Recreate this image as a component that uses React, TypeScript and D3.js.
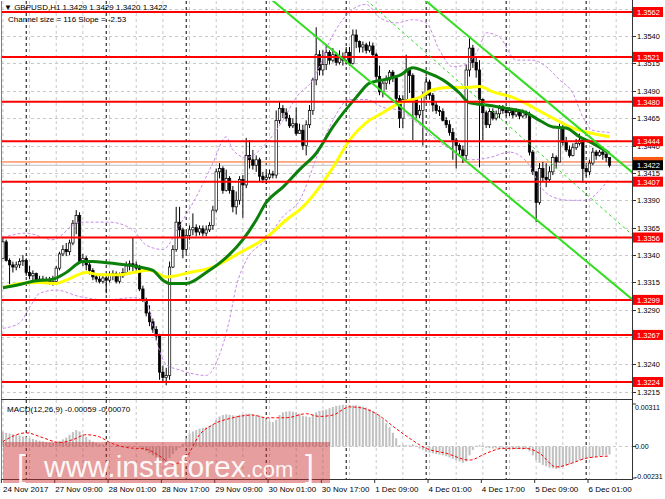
import React from "react";
import * as d3 from "d3";

// ---------- DATA ----------
const firstOpen = 1.3337;
const closes = [
  1.3352,1.3335,1.3331,1.3329,1.3331,1.3334,1.3335,1.3324,1.3321,1.3323,
  1.3317,1.3318,1.3316,1.3317,1.3315,1.3316,1.3328,1.3341,1.3345,1.3343,
  1.3351,1.3369,1.3376,1.3334,1.3337,1.3331,1.3326,1.3320,1.3318,1.3316,
  1.3319,1.3317,1.3322,1.3323,1.3316,1.3321,1.3324,1.3330,1.3332,1.3331,
  1.3328,1.3309,1.3299,1.3287,1.3279,1.3272,1.3266,1.3233,1.3228,1.3230,
  1.3329,1.3345,1.3370,1.3363,1.3345,1.3358,1.3363,1.3365,1.3361,1.3364,
  1.3360,1.3363,1.3367,1.3381,1.3416,1.3419,1.3399,1.3410,1.3399,1.3384,
  1.3390,1.3409,1.3404,1.3431,1.3427,1.3422,1.3427,1.3412,1.3409,1.3411,
  1.3414,1.3413,1.3463,1.3474,1.3470,1.3465,1.3458,1.3460,1.3451,1.3454,
  1.3440,1.3459,1.3472,1.3500,1.3523,1.3509,1.3514,1.3525,1.3518,1.3523,
  1.3516,1.3520,1.3518,1.3525,1.3515,1.3541,1.3535,1.3530,1.3532,1.3527,
  1.3531,1.3523,1.3503,1.3489,1.3497,1.3500,1.3507,1.3502,1.3483,1.3465,
  1.3482,1.3509,1.3504,1.3482,1.3468,1.3472,1.3486,1.3498,1.3486,1.3477,
  1.3472,1.3471,1.3463,1.3459,1.3452,1.3445,1.3440,1.3436,1.3431,1.3509,
  1.3529,1.3516,1.3509,1.3482,1.3470,1.3459,1.3471,1.3465,1.3469,1.3474,
  1.3472,1.3470,1.3472,1.3468,1.3471,1.3467,1.3470,1.3468,1.3434,1.3416,
  1.3388,1.3419,1.3411,1.3409,1.3416,1.3429,1.3425,1.3456,1.3443,1.3436,
  1.3431,1.3438,1.3442,1.3445,1.3419,1.3416,1.3424,1.3434,1.3431,1.3434,
  1.3432,1.3429,1.3422,
];
const highs = [
  1.3356,1.3354,1.3337,1.3334,1.3334,1.3337,1.3340,1.3337,1.3330,1.3326,
  1.3324,1.3321,1.3321,1.3320,1.3320,1.3321,1.3330,1.3343,1.3349,1.3351,
  1.3354,1.3372,1.3381,1.3379,1.3341,1.3339,1.3333,1.3328,1.3323,1.3322,
  1.3323,1.3322,1.3325,1.3326,1.3325,1.3324,1.3328,1.3334,1.3335,1.3356,
  1.3334,1.3331,1.3312,1.3301,1.3294,1.3282,1.3275,1.3268,1.3239,1.3237,
  1.3334,1.3349,1.3384,1.3384,1.3365,1.3361,1.3367,1.3378,1.3368,1.3367,
  1.3367,1.3367,1.3370,1.3385,1.3419,1.3424,1.3421,1.3418,1.3412,1.3403,
  1.3398,1.3412,1.3413,1.3447,1.3445,1.3436,1.3431,1.3429,1.3416,1.3416,
  1.3418,1.3417,1.3472,1.3480,1.3477,1.3474,1.3468,1.3465,1.3475,1.3460,
  1.3459,1.3463,1.3477,1.3502,1.3548,1.3527,1.3527,1.3532,1.3527,1.3529,
  1.3525,1.3527,1.3525,1.3530,1.3530,1.3546,1.3546,1.3536,1.3535,1.3534,
  1.3535,1.3534,1.3525,1.3513,1.3500,1.3504,1.3509,1.3509,1.3504,1.3486,
  1.3486,1.3523,1.3511,1.3506,1.3483,1.3477,1.3489,1.3503,1.3500,1.3488,
  1.3480,1.3476,1.3474,1.3466,1.3463,1.3456,1.3447,1.3442,1.3440,1.3514,
  1.3538,1.3532,1.3520,1.3518,1.3483,1.3472,1.3474,1.3474,1.3472,1.3477,
  1.3477,1.3475,1.3475,1.3474,1.3474,1.3472,1.3473,1.3472,1.3471,1.3436,
  1.3416,1.3424,1.3425,1.3424,1.3421,1.3433,1.3431,1.3460,1.3459,1.3448,
  1.3440,1.3442,1.3446,1.3451,1.3447,1.3422,1.3427,1.3438,1.3436,1.3436,
  1.3436,1.3436,1.3429,
];
const lows = [
  1.3337,1.3334,1.3313,1.3324,1.3326,1.3328,1.3330,1.3321,1.3318,1.3317,
  1.3314,1.3314,1.3314,1.3314,1.3313,1.3312,1.3314,1.3326,1.3339,1.3339,
  1.3340,1.3349,1.3359,1.3332,1.3330,1.3326,1.3322,1.3317,1.3315,1.3314,
  1.3314,1.3305,1.3315,1.3317,1.3314,1.3314,1.3319,1.3322,1.3326,1.3325,
  1.3324,1.3307,1.3297,1.3284,1.3275,1.3269,1.3262,1.3226,1.3223,1.3221,
  1.3226,1.3328,1.3343,1.3356,1.3337,1.3342,1.3354,1.3358,1.3357,1.3358,
  1.3357,1.3357,1.3361,1.3363,1.3379,1.3410,1.3396,1.3398,1.3396,1.3379,
  1.3377,1.3386,1.3374,1.3401,1.3419,1.3418,1.3416,1.3407,1.3406,1.3405,
  1.3409,1.3410,1.3410,1.3460,1.3465,1.3462,1.3456,1.3456,1.3449,1.3451,
  1.3436,1.3431,1.3456,1.3468,1.3495,1.3504,1.3504,1.3509,1.3514,1.3516,
  1.3513,1.3514,1.3513,1.3514,1.3513,1.3514,1.3529,1.3525,1.3525,1.3524,
  1.3525,1.3520,1.3500,1.3486,1.3484,1.3491,1.3496,1.3498,1.3480,1.3456,
  1.3456,1.3480,1.3488,1.3445,1.3465,1.3465,1.3440,1.3483,1.3482,1.3471,
  1.3469,1.3467,1.3462,1.3456,1.3449,1.3427,1.3419,1.3430,1.3424,1.3427,
  1.3503,1.3511,1.3502,1.3420,1.3445,1.3456,1.3456,1.3463,1.3463,1.3465,
  1.3469,1.3467,1.3467,1.3465,1.3466,1.3464,1.3465,1.3465,1.3431,1.3413,
  1.3370,1.3386,1.3407,1.3402,1.3407,1.3413,1.3419,1.3427,1.3440,1.3434,
  1.3429,1.3430,1.3436,1.3440,1.3406,1.3412,1.3413,1.3422,1.3427,1.3430,
  1.3427,1.3425,1.3420,
];

const srLevels = [1.3562, 1.3521, 1.348, 1.3444, 1.3407, 1.3356, 1.3299, 1.3267, 1.3224];
const priceTicks = [1.3565, 1.354, 1.3515, 1.349, 1.3465, 1.344, 1.3415, 1.339, 1.3365, 1.334, 1.3315, 1.329, 1.3265, 1.324, 1.3215];
const bidPrice = 1.3422;
const markerPrice = 1.3425;

const timeLabelBars = [0, 16, 32, 48, 64, 80, 96, 112, 128, 144, 160, 176];
const timeLabels = ["24 Nov 2017", "27 Nov 09:00", "28 Nov 01:00", "28 Nov 17:00", "29 Nov 09:00", "30 Nov 01:00", "30 Nov 17:00", "1 Dec 09:00", "4 Dec 01:00", "4 Dec 17:00", "5 Dec 09:00", "6 Dec 01:00"];
const daySeparatorBars = [7, 31, 55, 79, 103, 127, 151, 175];

const maGreenBars = [0,5,9,15,19,24,27,31,37,41,45,48,50,55,61,66,72,76,79,84,89,94,99,106,110,114,119,123,127,132,137,140,145,151,157,161,165,169,173,177,182];
const maGreenVals = [1.3310,1.3313,1.3316,1.3318,1.3324,1.3334,1.3334,1.3333,1.3331,1.3329,1.3326,1.3317,1.3314,1.3314,1.3324,1.3335,1.3354,1.3372,1.3388,1.3402,1.3418,1.3433,1.3457,1.3484,1.3497,1.3500,1.3504,1.3511,1.3507,1.3500,1.3488,1.3479,1.3477,1.3474,1.3470,1.3463,1.3457,1.3456,1.3448,1.3442,1.3433];
const maYellowBars = [0,5,11,16,19,25,29,35,39,44,49,56,63,71,79,85,90,95,99,104,109,114,119,125,129,134,139,143,147,153,159,165,171,177,182];
const maYellowVals = [1.3310,1.3314,1.3315,1.3314,1.3317,1.3324,1.3322,1.3322,1.3324,1.3326,1.3320,1.3324,1.3329,1.3342,1.3356,1.3372,1.3384,1.3402,1.3420,1.3445,1.3461,1.3470,1.3479,1.3484,1.3491,1.3493,1.3493,1.3494,1.3489,1.3484,1.3475,1.3465,1.3456,1.3451,1.3448];

const bbUpperBars = [0,7,15,23,32,39,43,48,53,59,63,67,69,73,79,84,88,93,99,104,109,113,118,123,127,131,135,139,143,145,149,154,159,163,167,171,174,177,182];
const bbUpperVals = [1.3356,1.3360,1.3354,1.3370,1.3370,1.3363,1.3349,1.3345,1.3367,1.3399,1.3424,1.3448,1.3436,1.3429,1.3442,1.3463,1.3484,1.3500,1.3541,1.3562,1.3569,1.3557,1.3552,1.3555,1.3552,1.3527,1.3512,1.3514,1.3530,1.3543,1.3539,1.3518,1.3518,1.3512,1.3500,1.3488,1.3466,1.3454,1.3452];
const bbLowerBars = [0,5,8,11,16,23,31,39,43,46,49,53,61,65,68,70,73,79,84,89,95,99,104,109,114,119,125,131,136,140,146,152,158,161,165,170,175,179,182];
const bbLowerVals = [1.3273,1.3278,1.3292,1.3305,1.3308,1.3302,1.3299,1.3301,1.3297,1.3262,1.3240,1.3235,1.3230,1.3249,1.3281,1.3311,1.3335,1.3354,1.3375,1.3390,1.3436,1.3463,1.3482,1.3482,1.3475,1.3472,1.3459,1.3443,1.3434,1.3427,1.3429,1.3434,1.3422,1.3404,1.3393,1.3390,1.3390,1.3399,1.3410];

const channelAnchorBar = 174;
const channelLowerPrice = 1.3337;
const channelSize = 0.0116;
const channelSlope = -0.000253;
const trendBars = [109, 189];
const trendPrices = [1.3573, 1.3358];

const macdVals = [
  0.00105,0.00100,0.00095,0.00090,0.00085,0.00080,0.00075,0.00068,0.00060,0.00055,
  0.00048,0.00042,0.00038,0.00032,0.00028,0.00025,0.00030,0.00040,0.00052,0.00065,
  0.00085,0.00105,0.00120,0.00110,0.00090,0.00070,0.00050,0.00035,0.00025,0.00020,
  0.00015,0.00010,0.00008,0.00005,0.00002,0.00002,0.00003,0.00005,0.00006,0.00004,
  0.00002,-0.00008,-0.00020,-0.00035,-0.00050,-0.00065,-0.00080,-0.00100,-0.00115,-0.00120,
  -0.00085,-0.00055,-0.00030,-0.00010,0.00020,0.00060,0.00095,0.00110,0.00120,0.00130,
  0.00135,0.00140,0.00150,0.00165,0.00195,0.00220,0.00230,0.00235,0.00232,0.00228,
  0.00225,0.00232,0.00235,0.00240,0.00240,0.00235,0.00230,0.00225,0.00215,0.00200,
  0.00185,0.00178,0.00195,0.00230,0.00250,0.00255,0.00258,0.00255,0.00250,0.00240,
  0.00225,0.00220,0.00215,0.00230,0.00250,0.00260,0.00265,0.00270,0.00280,0.00290,
  0.00297,0.00300,0.00305,0.00305,0.00305,0.00300,0.00302,0.00298,0.00292,0.00285,
  0.00275,0.00260,0.00245,0.00225,0.00200,0.00170,0.00140,0.00100,0.00060,0.00010,
  0.00012,0.00010,0.00008,0.00015,0.00005,-0.00015,-0.00025,-0.00040,-0.00045,-0.00050,
  -0.00055,-0.00060,-0.00065,-0.00072,-0.00080,-0.00090,-0.00100,-0.00110,-0.00120,-0.00110,
  -0.00065,-0.00025,0.00005,0.00010,0.00008,-0.00010,-0.00012,-0.00015,-0.00015,-0.00018,
  -0.00018,-0.00020,-0.00020,-0.00022,-0.00020,-0.00020,-0.00022,-0.00020,-0.00035,-0.00065,
  -0.00100,-0.00120,-0.00135,-0.00145,-0.00155,-0.00160,-0.00165,-0.00160,-0.00150,-0.00140,
  -0.00130,-0.00120,-0.00110,-0.00100,-0.00095,-0.00090,-0.00085,-0.00080,-0.00075,-0.00070,
  -0.00066,-0.00062,-0.00059,
];
const signalBars = [0,5,7,12,17,21,25,29,32,37,43,47,51,55,59,63,69,75,79,85,91,95,99,104,108,112,118,122,127,133,140,145,150,157,161,166,171,175,182];
const signalVals = [0.00036,0.00093,0.0010,0.00064,0.00029,0.0005,0.00086,0.0007,0.0003,-0.00007,-0.0002,-0.0007,-0.0013,-0.0008,0.00086,0.0016,0.0021,0.0023,0.0021,0.0021,0.0024,0.0022,0.0023,0.0029,0.0028,0.0024,0.0013,0.0006,-0.00014,-0.0005,-0.001,-0.0005,-0.00014,-0.00014,-0.0005,-0.0015,-0.0012,-0.00086,-0.0007];
const macdTickVals = [0.00311, 0, -0.00231];
const macdTickLabels = ["0.00311", "0.00", "-0.00231"];

const FONT = "'Liberation Sans', Arial, Helvetica, sans-serif";

export default function App() {
  const x = d3.scaleLinear().domain([0, 182]).range([2.9, 609.5]);
  const y = d3.scaleLinear().domain([1.3224, 1.3562]).range([382, 12]);
  const ym = d3.scaleLinear().domain([-0.00231, 0.00311]).range([478, 404]);

  const MAIN_L = 1, MAIN_R = 632, MAIN_T = 1, MAIN_B = 398;
  const MACD_T = 400, MACD_B = 479;

  const curveLine = (bars: number[], vals: number[], ys: any) =>
    d3.line<number>().x((_, i) => x(bars[i])).y((v) => ys(v)).curve(d3.curveMonotoneX)(vals) || "";

  const opens = closes.map((_, i) => (i === 0 ? firstOpen : closes[i - 1]));

  const gridBars = d3.range(0, 190, 8);
  const chanLine = (offset: number) => {
    const b0 = 60, b1 = 192;
    const p = (b: number) => channelLowerPrice + offset + (b - channelAnchorBar) * channelSlope;
    return { x1: x(b0), y1: y(p(b0)), x2: x(b1), y2: y(p(b1)) };
  };
  const lower = chanLine(0);
  const upper = chanLine(channelSize);
  const macdLabelShift = [6, 3, 1];

  return (
    <svg width={665} height={499} style={{ position: "fixed", left: 0, top: 0, background: "#fff" }} fontFamily={FONT}>
      <defs>
        <clipPath id="clipMain"><rect x={MAIN_L} y={MAIN_T} width={MAIN_R - MAIN_L} height={MAIN_B - MAIN_T} /></clipPath>
        <clipPath id="clipMacd"><rect x={MAIN_L} y={MACD_T} width={MAIN_R - MAIN_L} height={MACD_B - MACD_T} /></clipPath>
      </defs>
      <rect x={0} y={0} width={665} height={499} fill="#fff" />

      {/* grid main */}
      <g clipPath="url(#clipMain)">
        {priceTicks.map((p) => (
          <line key={"hg" + p} x1={MAIN_L} x2={MAIN_R} y1={Math.round(y(p)) + 0.5} y2={Math.round(y(p)) + 0.5} stroke="#c8c8c8" strokeDasharray="3,3" />
        ))}
        {gridBars.map((b) => (
          <line key={"vg" + b} x1={x(b)} x2={x(b)} y1={MAIN_T} y2={MAIN_B} stroke="#c8c8c8" strokeDasharray="3,3" />
        ))}
        {daySeparatorBars.map((b) => (
          <line key={"ds" + b} x1={x(b)} x2={x(b)} y1={MAIN_T} y2={MAIN_B} stroke="#000" strokeDasharray="3,3" />
        ))}
      </g>
      {/* grid macd */}
      <g clipPath="url(#clipMacd)">
        <line x1={MAIN_L} x2={MAIN_R} y1={ym(0)} y2={ym(0)} stroke="#c8c8c8" strokeDasharray="3,3" />
        {gridBars.map((b) => (
          <line key={"vgm" + b} x1={x(b)} x2={x(b)} y1={MACD_T} y2={MACD_B} stroke="#c8c8c8" strokeDasharray="3,3" />
        ))}
        {daySeparatorBars.map((b) => (
          <line key={"dsm" + b} x1={x(b)} x2={x(b)} y1={MACD_T} y2={MACD_B} stroke="#000" strokeDasharray="3,3" />
        ))}
      </g>

      <g clipPath="url(#clipMain)">
        <line x1={MAIN_L} x2={MAIN_R} y1={y(bidPrice)} y2={y(bidPrice)} stroke="#c0c0c0" strokeWidth={1} />
        <line x1={MAIN_L} x2={MAIN_R} y1={y(markerPrice)} y2={y(markerPrice)} stroke="#ff5a14" strokeWidth={1} />

        {closes.map((c, i) => {
          const o = opens[i];
          const hi = Math.max(highs[i], o, c);
          const lo = Math.min(lows[i], o, c);
          const cx = x(i);
          const top = y(Math.max(o, c));
          const bot = y(Math.min(o, c));
          const bull = c >= o;
          return (
            <g key={"c" + i}>
              <line x1={cx} x2={cx} y1={y(hi)} y2={y(lo)} stroke="#000" strokeWidth={1} />
              <rect x={cx - 1.2} y={top} width={2.4} height={Math.max(bot - top, 1)} fill={bull ? "#fff" : "#000"} stroke="#000" strokeWidth={0.7} />
            </g>
          );
        })}

        <path d={curveLine(bbUpperBars, bbUpperVals, y)} fill="none" stroke="#c78be8" strokeWidth={1} strokeDasharray="3,2" />
        <path d={curveLine(bbLowerBars, bbLowerVals, y)} fill="none" stroke="#c78be8" strokeWidth={1} strokeDasharray="3,2" />

        <path d={curveLine(maYellowBars, maYellowVals, y)} fill="none" stroke="#ffff00" strokeWidth={3} />
        <path d={curveLine(maGreenBars, maGreenVals, y)} fill="none" stroke="#0b800b" strokeWidth={3} />

        {srLevels.map((p) => (
          <line key={"sr" + p} x1={MAIN_L} x2={MAIN_R} y1={y(p)} y2={y(p)} stroke="#ff0000" strokeWidth={2} />
        ))}

        <line {...upper} stroke="#33dd22" strokeWidth={2} />
        <line {...lower} stroke="#33dd22" strokeWidth={2} />
        <line x1={x(trendBars[0])} y1={y(trendPrices[0])} x2={x(trendBars[1])} y2={y(trendPrices[1])} stroke="#33dd22" strokeWidth={1} strokeDasharray="3,3" />
      </g>

      <text x={4} y={10} fontSize={8} fill="#000">▼ GBPUSD,H1  1.3429 1.3429 1.3420 1.3422</text>
      <text x={8} y={22} fontSize={8} fill="#000">Channel size = 116  Slope = -2.53</text>

      <g clipPath="url(#clipMacd)">
        {macdVals.map((v, i) => (
          <rect key={"m" + i} x={x(i) - 1} y={Math.min(ym(v), ym(0))} width={2} height={Math.max(Math.abs(ym(v) - ym(0)), 0.5)} fill="#c0c0c0" />
        ))}
        <path d={curveLine(signalBars, signalVals, ym)} fill="none" stroke="#ff0000" strokeWidth={1} strokeDasharray="3,2" />
      </g>
      <text x={7} y={412} fontSize={8} fill="#000">MACD(12,26,9) -0.00059 -0.00070</text>

      <line x1={1.5} x2={1.5} y1={MAIN_T} y2={MACD_B} stroke="#808080" />
      <line x1={MAIN_R + 0.5} x2={MAIN_R + 0.5} y1={0} y2={MACD_B + 1} stroke="#333" />
      <line x1={MAIN_L} x2={MAIN_R} y1={MACD_T - 0.5} y2={MACD_T - 0.5} stroke="#333" />
      <line x1={MAIN_L} x2={MAIN_R} y1={MACD_B + 0.5} y2={MACD_B + 0.5} stroke="#333" />

      {priceTicks.map((p) => (
        <g key={"pt" + p}>
          <line x1={MAIN_R} x2={MAIN_R + 4} y1={Math.round(y(p)) + 0.5} y2={Math.round(y(p)) + 0.5} stroke="#333" />
          <text x={637} y={y(p) + 3} fontSize={7.5} fill="#000">{p.toFixed(4)}</text>
        </g>
      ))}
      {srLevels.map((p) => (
        <g key={"srl" + p}>
          <rect x={633} y={y(p) - 5} width={30} height={10} fill="#ff0000" />
          <text x={637} y={y(p) + 3} fontSize={7.5} fill="#fff">{p.toFixed(4)}</text>
        </g>
      ))}
      <rect x={633} y={y(markerPrice) - 5} width={30} height={10} fill="#ff5a14" />
      <rect x={633} y={y(bidPrice) - 5} width={30} height={10} fill="#000" />
      <text x={637} y={y(bidPrice) + 3} fontSize={7.5} fill="#fff">{bidPrice.toFixed(4)}</text>

      {macdTickVals.map((v, i) => (
        <g key={"mt" + i}>
          <line x1={MAIN_R} x2={MAIN_R + 4} y1={ym(v)} y2={ym(v)} stroke="#333" />
          <text x={635} y={ym(v) + macdLabelShift[i]} fontSize={7} fill="#000">{macdTickLabels[i]}</text>
        </g>
      ))}

      {timeLabelBars.map((b, i) => (
        <g key={"tl" + b}>
          <line x1={x(b) - 1.5} x2={x(b) - 1.5} y1={MACD_B} y2={MACD_B + 4} stroke="#333" />
          <text x={i === 0 ? 3 : x(b) - 1} y={492} fontSize={8} fill="#000">{timeLabels[i]}</text>
        </g>
      ))}

      <rect x={3} y={442} width={327} height={41} fill="rgb(200,40,40)" opacity={0.45} />
      <g fill="#fff" opacity={0.92}>
        <text x={17} y={477} fontSize={32}>[</text>
        <text x={44} y={477} fontSize={30}>www.instaforex<tspan fontSize={22}>.com</tspan></text>
        <text x={305} y={477} fontSize={32}>]</text>
      </g>
    </svg>
  );
}
